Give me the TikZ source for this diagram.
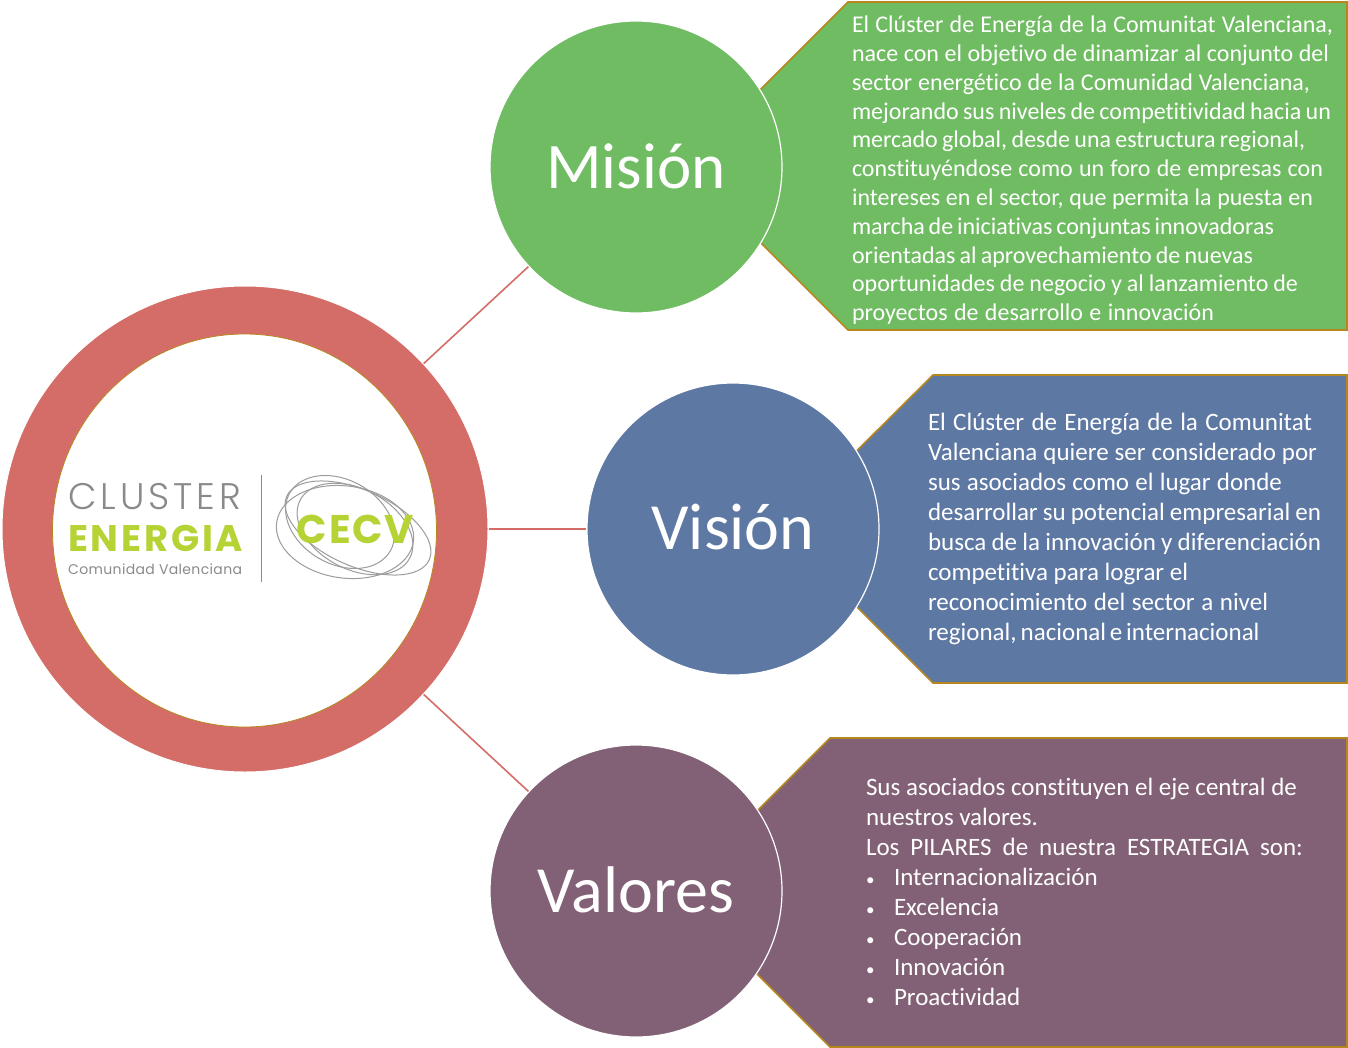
\documentclass[tikz,border=0pt]{standalone}
\usetikzlibrary{shapes.geometric}
\usepackage{fontspec}
\setmainfont{Carlito}
\newfontfamily\bodyfont[Ligatures=NoCommon]{Carlito}
\newfontfamily\logofont[LetterSpace=7.5]{Poppins}
\newfontfamily\logothin[LetterSpace=10.5]{Poppins Light}
\newfontfamily\logosmall[LetterSpace=2.5]{Poppins}
\newfontfamily\logomark[LetterSpace=4.4]{Poppins}
\newcommand\fitln[2]{\makebox[#1pt][s]{#2}}
\newcommand\bul{\makebox[28pt][l]{{\fontsize{17}{17}\selectfont •}}}
\definecolor{cgreen}{HTML}{70BC63}
\definecolor{cblue}{HTML}{5E78A4}
\definecolor{cpurple}{HTML}{826176}
\definecolor{cred}{HTML}{D46D67}
\definecolor{cgold}{HTML}{B5871E}
\definecolor{clime}{HTML}{B5D334}
\definecolor{cgrey}{HTML}{8A8A8A}
\tikzset{
  x=1pt,y=-1pt,
  topic/.style={circle,draw=white,line width=1.2pt,minimum size=292pt,inner sep=0pt,text=white,font=\bodyfont\fontsize{66}{70}\selectfont},
  callout/.style={draw=cgold,line width=1.6pt,line join=miter},
  bodytext/.style={anchor=north west,inner sep=0pt,outer sep=0pt,text=white,align=left,font=\bodyfont\fontsize{24}{28.8}\selectfont},
  bodytextb/.style={bodytext,font=\bodyfont\fontsize{25}{30}\selectfont},
  link/.style={draw=cred,line width=1.6pt},
  logoline/.style={draw=cgrey!85,line width=1pt},
  logotext/.style={inner sep=0pt,anchor=base west},
}
\begin{document}
\begin{tikzpicture}
\useasboundingbox (0,0) rectangle (1348,1048);
% call-out panels
\draw[callout,fill=cgreen] (700,150) -- (848,2) -- (1347,2) -- (1347,330) -- (848,330) -- (700,182) -- cycle;
\draw[callout,fill=cblue] (790,517) -- (933,375) -- (1347,375) -- (1347,683) -- (933,683) -- (790,540) -- cycle;
\draw[callout,fill=cpurple] (690,878) -- (830,738) -- (1347,738) -- (1347,1047) -- (830,1047) -- (690,907) -- cycle;
% ring
\node[circle,fill=cred,draw=white,line width=1pt,minimum size=486pt,inner sep=0pt] (ring) at (245,529) {};
\node[ellipse,fill=white,draw=cgold,line width=0.8pt,minimum width=384pt,minimum height=393pt,inner sep=0pt] (hub) at (244.5,530.5) {};
% topics
\node[topic,fill=cgreen] (mision) at (636,167) {\raisebox{2pt}{\fontsize{65}{70}\selectfont Misión}};
\node[topic,fill=cblue] (vision) at (733,529) {\raisebox{3.5pt}{Visión}};
\node[topic,fill=cpurple] (valores) at (636,891) {\raisebox{3.5pt}{Valores}};
% connectors
\draw[link] (ring) -- (mision);
\draw[link] (ring) -- (vision);
\draw[link] (ring) -- (valores);
% texts
\node[bodytext] (tm) at (852,16) {\fitln{481}{El Clúster de Energía de la Comunitat Valenciana,}\\
\fitln{477}{nace con el objetivo de dinamizar al conjunto del}\\
\fitln{458}{sector energético de la Comunidad Valenciana,}\\
\fitln{479}{mejorando sus niveles de competitividad hacia un}\\
\fitln{453}{mercado global, desde una estructura regional,}\\
\fitln{471}{constituyéndose como un foro de empresas con}\\
\fitln{461}{intereses en el sector, que permita la puesta en}\\
\fitln{422}{marcha de iniciativas conjuntas innovadoras}\\
\fitln{401}{orientadas al aprovechamiento de nuevas}\\
\fitln{446}{oportunidades de negocio y al lanzamiento de}\\
\fitln{362}{proyectos de desarrollo e innovación}};
\node[bodytextb] (tv) at (928,413) {\fitln{384}{El Clúster de Energía de la Comunitat}\\
\fitln{389}{Valenciana quiere ser considerado por}\\
\fitln{354}{sus asociados como el lugar donde}\\
\fitln{393}{desarrollar su potencial empresarial en}\\
\fitln{393}{busca de la innovación y diferenciación}\\
\fitln{260}{competitiva para lograr el}\\
\fitln{340}{reconocimiento del sector a nivel}\\
\fitln{329}{regional, nacional e internacional}};
\node[bodytextb] (tva) at (866,778) {\fitln{431}{Sus asociados constituyen el eje central de}\\
\fitln{172}{nuestros valores.}\\
\fitln{437}{Los PILARES de nuestra ESTRATEGIA son:}\\
\bul Internacionalización\\
\bul Excelencia\\
\bul Cooperación\\
\bul Innovación\\
\bul Proactividad};
% logo
\node[logotext,text=cgrey,font=\logothin\fontsize{37}{37}\selectfont] (l1) at (68,509) {CLUSTER};
\node[logotext,text=clime,font=\logofont\bfseries\fontsize{37}{37}\selectfont] (l2) at (68,551) {ENERGIA};
\node[logotext,text=cgrey,font=\logosmall\fontsize{14}{14}\selectfont] (l3) at (68,574) {Comunidad Valenciana};
\coordinate (sepa) at (261,475);
\coordinate (sepb) at (261,582);
\draw[draw=cgrey,line width=1pt] (sepa) -- (sepb);
\draw[logoline,rotate around={-24:(358,528)}] (358,528) ellipse (78 and 38);
\draw[logoline,rotate around={-8:(345,532)}] (345,532) ellipse (69 and 46);
\draw[logoline,rotate around={-28:(355,529)}] (355,529) ellipse (62 and 40);
\draw[logoline,rotate around={-30:(340,522)}] (340,522) ellipse (58 and 42);
\node[inner sep=0pt,text=clime,font=\logomark\bfseries\fontsize{40}{40}\selectfont] (cecv) at (355.5,529) {CECV};
\end{tikzpicture}
\end{document}
